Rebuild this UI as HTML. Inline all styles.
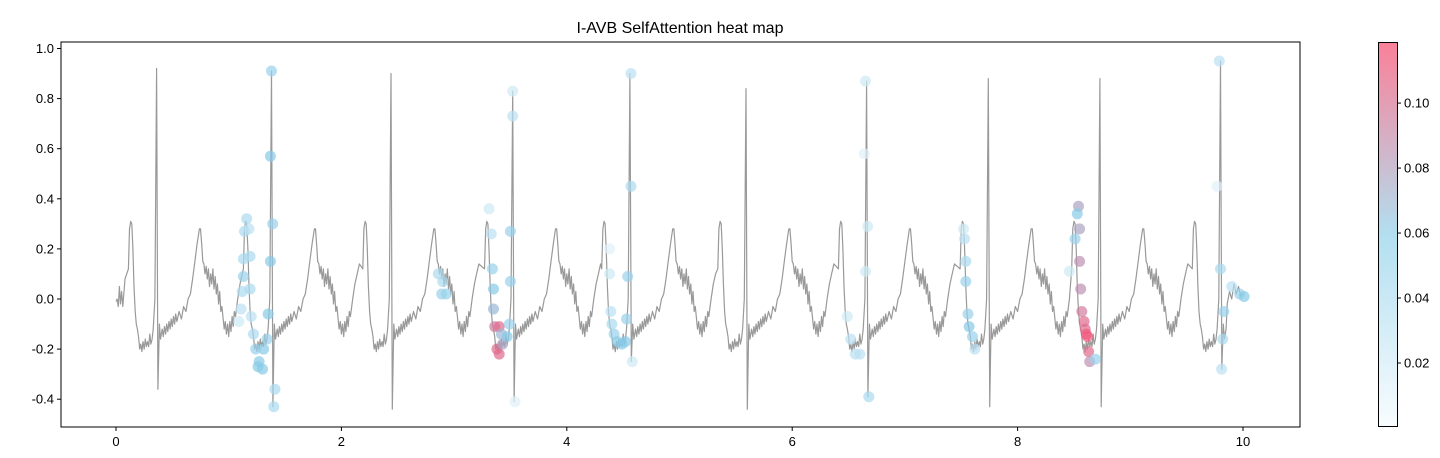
<!DOCTYPE html>
<html><head><meta charset="utf-8">
<style>
html,body{margin:0;padding:0;background:#fff;}
svg{display:block;font-family:"Liberation Sans","DejaVu Sans",sans-serif;}
</style></head>
<body>
<svg id="chart" width="1440" height="458" viewBox="0 0 1440 458" xmlns="http://www.w3.org/2000/svg">
<defs>
<linearGradient id="cmap" x1="0" y1="1" x2="0" y2="0">
<stop offset="0" stop-color="#f8fcfe"/>
<stop offset="0.5" stop-color="#b2dff0"/>
<stop offset="1" stop-color="#fa8099"/>
</linearGradient>
</defs>
<text x="680" y="33" text-anchor="middle" font-size="16" fill="#000">I-AVB SelfAttention heat map</text>
<g id="plot"></g>
<rect x="61" y="42" width="1239" height="385" fill="none" stroke="#000" stroke-width="1"/>
<rect x="1378.5" y="42.5" width="19" height="384" fill="url(#cmap)" stroke="#000" stroke-width="1"/>
<g id="axes"></g>
</svg>
<script>
// ---- data ----
const xTicks = [0, 2, 4, 6, 8, 10];
const yTicks = [-0.4, -0.2, 0.0, 0.2, 0.4, 0.6, 0.8, 1.0];
const cbTicks = [0.02, 0.04, 0.06, 0.08, 0.10];
const beatTimes = [0.36, 1.38, 2.44, 3.52, 4.56, 5.59, 6.66, 7.74, 8.73, 9.80];
const beatPeaks = [0.92, 0.91, 0.90, 0.83, 0.90, 0.84, 0.87, 0.88, 0.88, 0.95];
const beatTroughs = [-0.36, -0.43, -0.44, -0.41, -0.25, -0.44, -0.39, -0.43, -0.43, -0.28];
const leadT = [0, 0.01, 0.02, 0.03, 0.04, 0.05, 0.06, 0.08];
const leadV = [-0.01, 0.0, -0.03, 0.05, -0.02, 0.03, -0.03, 0.08];
const tailT = [9.86, 9.88, 9.9, 9.92, 9.94, 9.96, 9.98, 10.0];
const tailV = [-0.02, 0.03, 0.0, 0.06, 0.02, 0.05, 0.01, 0.02];
const tmplDt = [-0.25,-0.24,-0.23,-0.22,-0.21,-0.2,-0.19,-0.18,-0.17,-0.16,-0.15,-0.14,-0.13,-0.12,-0.11,-0.1,-0.09,-0.08,-0.07,-0.06,-0.05,-0.04,-0.03,-0.015,
 0.05,0.06,0.07,0.08,0.09,0.1,0.11,0.12,0.13,0.14,0.15,0.16,0.17,0.18,0.2,0.22,0.24,0.26,0.28,0.3,0.32,0.34,0.36,0.38,0.39,0.4,0.41,0.42,0.43,0.44,0.45,0.46,0.47,0.48,0.49,0.5,0.51,0.52,0.53,0.54,0.55,0.56,0.57,0.58,0.6,0.61,0.62,0.63,0.64,0.65,0.66,0.67,0.68,0.69,0.7,0.72,0.74,0.76,0.78];
const tmplV = [0.12,0.28,0.31,0.3,0.2,0.05,-0.05,-0.1,-0.12,-0.15,-0.2,-0.18,-0.21,-0.17,-0.2,-0.16,-0.19,-0.17,-0.19,-0.14,-0.18,-0.16,-0.12,0.0,
 -0.12,-0.15,-0.11,-0.14,-0.1,-0.13,-0.09,-0.12,-0.08,-0.11,-0.07,-0.1,-0.06,-0.09,-0.05,-0.08,-0.03,-0.05,0.0,0.02,0.08,0.15,0.22,0.28,0.28,0.22,0.15,0.14,0.1,0.13,0.08,0.12,0.05,0.1,0.06,0.12,0.04,0.09,0.02,0.06,-0.02,0.03,-0.05,-0.03,-0.12,-0.09,-0.14,-0.1,-0.15,-0.09,-0.13,-0.07,-0.11,-0.05,-0.07,0.0,0.06,0.1,0.14];
const dotT = [1.16,1.14,1.18,1.13,1.19,1.13,1.12,1.19,1.11,1.09,1.2,1.22,1.24,1.27,1.3,1.26,1.31,1.34,1.35,1.37,1.39,1.37,1.38,1.41,1.40,
 2.86,2.89,2.93,2.9,
 3.31,3.33,3.34,3.35,3.35,3.36,3.40,3.38,3.40,3.43,3.42,3.47,3.49,3.5,3.50,3.52,3.52,3.54,
 4.38,4.38,4.39,4.40,4.42,4.45,4.49,4.52,4.53,4.54,4.57,4.57,4.58,
 6.49,6.52,6.56,6.6,6.65,6.65,6.68,6.67,6.64,
 7.52,7.53,7.54,7.54,7.56,7.57,7.6,7.62,
 8.54,8.53,8.51,8.55,8.55,8.56,8.57,8.59,8.6,8.62,8.61,8.63,8.64,8.69,8.46,
 9.79,9.8,9.83,9.82,9.81,9.9,9.97,10.01,9.77];
const dotV = [0.32,0.27,0.28,0.16,0.17,0.09,0.03,0.04,-0.04,-0.09,-0.07,-0.14,-0.2,-0.25,-0.28,-0.27,-0.2,-0.16,-0.06,0.15,0.30,0.57,0.91,-0.36,-0.43,
 0.1,0.02,0.02,0.07,
 0.36,0.26,0.12,0.04,-0.04,-0.11,-0.11,-0.2,-0.22,-0.18,-0.14,-0.15,-0.1,0.07,0.27,0.73,0.83,-0.41,
 0.1,0.2,-0.05,-0.1,-0.14,-0.17,-0.18,-0.17,-0.08,0.09,0.45,0.9,-0.25,
 -0.07,-0.16,-0.22,-0.22,0.11,0.87,-0.39,0.29,0.58,
 0.28,0.24,0.15,0.07,-0.06,-0.11,-0.15,-0.2,
 0.37,0.34,0.24,0.28,0.15,0.04,-0.05,-0.09,-0.12,-0.15,-0.14,-0.21,-0.25,-0.24,0.11,
 0.95,0.12,-0.05,-0.16,-0.28,0.05,0.02,0.01,0.45];
const dotW = [0.04,0.04,0.03,0.04,0.04,0.05,0.04,0.04,0.03,0.02,0.03,0.04,0.05,0.06,0.06,0.06,0.06,0.05,0.06,0.06,0.05,0.06,0.05,0.04,0.04,
 0.04,0.05,0.05,0.04,
 0.02,0.03,0.05,0.06,0.07,0.10,0.11,0.11,0.11,0.08,0.07,0.06,0.05,0.05,0.05,0.03,0.02,0.01,
 0.02,0.01,0.03,0.04,0.05,0.06,0.06,0.06,0.05,0.05,0.04,0.03,0.02,
 0.02,0.03,0.03,0.03,0.02,0.02,0.04,0.02,0.01,
 0.02,0.03,0.04,0.05,0.05,0.06,0.05,0.03,
 0.08,0.06,0.05,0.08,0.09,0.09,0.10,0.11,0.11,0.12,0.12,0.11,0.09,0.05,0.02,
 0.03,0.04,0.05,0.04,0.03,0.03,0.05,0.06,0.01];

// ---- scales ----
const X0=61, X1=1300, Y0=42, Y1=427;
const xs = t => 116 + t*112.7;
const ys = v => 299 - v*250.5;
const CB_MIN=0.0003, CB_MAX=0.1188;
const cbY = w => 427 - (w-CB_MIN)/(CB_MAX-CB_MIN)*385;
const NS="http://www.w3.org/2000/svg";
function mk(tag, attrs, parent){const e=document.createElementNS(NS,tag);for(const k in attrs)e.setAttribute(k,attrs[k]);parent.appendChild(e);return e;}
function lerp(a,b,f){return a.map((x,i)=>Math.round(x+(b[i]-x)*f));}
function cmap(w){
  let f=(w-CB_MIN)/(CB_MAX-CB_MIN); f=Math.max(0,Math.min(1,f));
  const c0=[240,248,252],c1=[135,203,232],c2=[240,90,125];
  const c = f<0.5 ? lerp(c0,c1,f/0.5) : lerp(c1,c2,(f-0.5)/0.5);
  return `rgb(${c[0]},${c[1]},${c[2]})`;
}
const plot=document.getElementById('plot');
const axes=document.getElementById('axes');

// ---- ECG line ----
const pts=[];
for(let i=0;i<leadT.length;i++) pts.push([leadT[i],leadV[i]]);
for(let b=0;b<beatTimes.length;b++){
  const r=beatTimes[b];
  const last = b+1>=beatTimes.length;
  const nextStart = !last ? beatTimes[b+1]-0.25 : 9.86;
  for(let j=0;j<tmplDt.length;j++){
    const dt=tmplDt[j];
    if(dt<0){ if(r+dt>=(b===0?0.09:-1)) pts.push([r+dt,tmplV[j]]); }
  }
  pts.push([r,beatPeaks[b]]);
  pts.push([r+0.012,beatTroughs[b]]);
  pts.push([r+0.025,-0.1]);
  pts.push([r+0.035,-0.16]);
  for(let j=0;j<tmplDt.length;j++){
    const dt=tmplDt[j];
    if(dt>0 && r+dt<nextStart) pts.push([r+dt,tmplV[j]]);
  }
}
for(let i=0;i<tailT.length;i++) pts.push([tailT[i],tailV[i]]);
const line=mk('polyline',{points:pts.map(p=>xs(p[0]).toFixed(1)+','+ys(p[1]).toFixed(1)).join(' '),fill:'none',stroke:'#999','stroke-width':1.2,'stroke-linejoin':'round'},plot);



// ---- attention dots ----
for(let i=0;i<dotT.length;i++){
  const c=mk('circle',{cx:xs(dotT[i]).toFixed(1),cy:ys(dotV[i]).toFixed(1),r:5.5,fill:cmap(dotW[i]),'fill-opacity':0.7},plot);
  
  
}

// ---- axes ----
xTicks.forEach(t=>{
  const x=xs(t);
  const tk=mk('line',{x1:x,y1:Y1,x2:x,y2:Y1+4,stroke:'#000'},axes);
  
  
  const tx=mk('text',{x:x,y:Y1+19,'text-anchor':'middle','font-size':13},axes);
  tx.textContent=String(t);
  
  
});
yTicks.forEach(v=>{
  const y=ys(v);
  const tk=mk('line',{x1:X0-4,y1:y,x2:X0,y2:y,stroke:'#000'},axes);
  
  
  const tx=mk('text',{x:X0-7,y:y+4.5,'text-anchor':'end','font-size':13},axes);
  tx.textContent=v.toFixed(1);
  
  
});
cbTicks.forEach(w=>{
  const y=cbY(w);
  const tk=mk('line',{x1:1397,y1:y,x2:1401,y2:y,stroke:'#000'},axes);
  
  
  const tx=mk('text',{x:1404,y:y+4.5,'font-size':13},axes);
  tx.textContent=w.toFixed(2);
  
  
});
</script>
</body></html>
